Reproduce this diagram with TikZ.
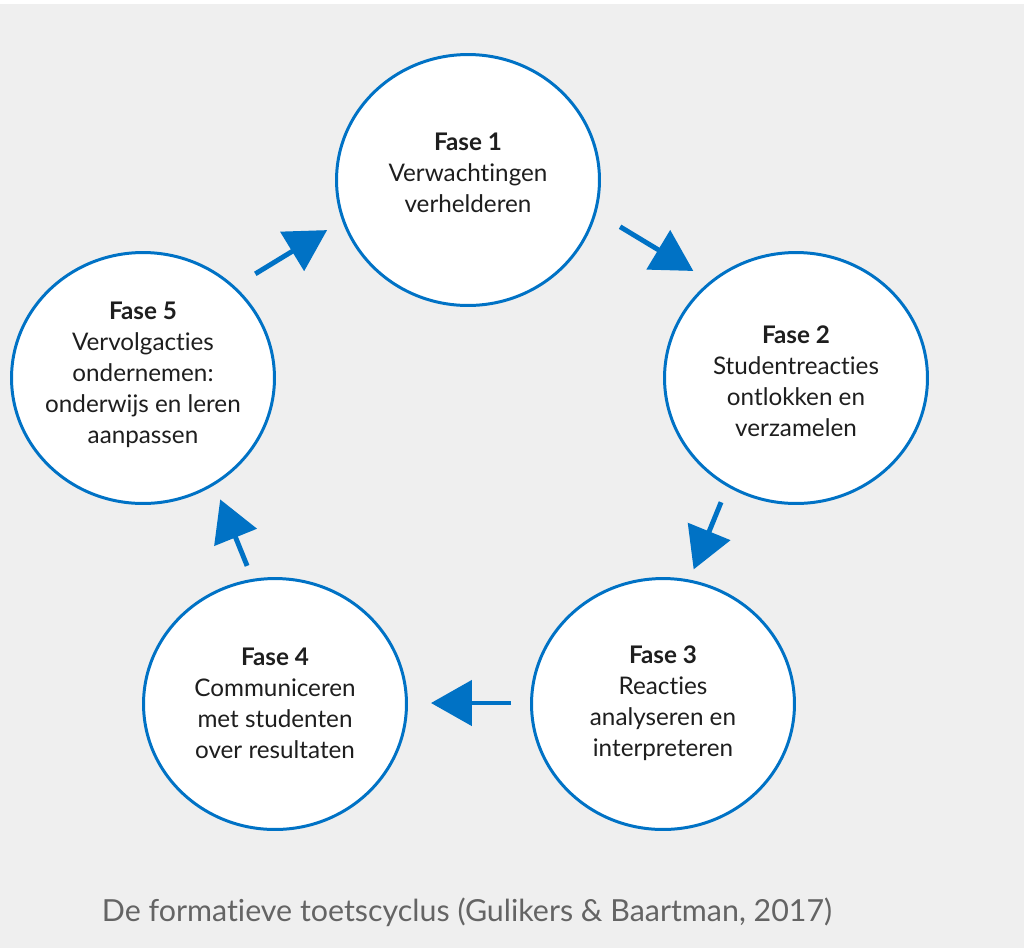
\documentclass[tikz,border=0pt]{standalone}
\usepackage{fontspec}
\setmainfont{Lato}[Ligatures=NoCommon]
\usetikzlibrary{arrows.meta,shapes.geometric}
\definecolor{fblue}{RGB}{0,114,197}
\definecolor{bggray}{RGB}{239,239,239}
\definecolor{capgray}{RGB}{100,100,100}
\definecolor{txtdark}{RGB}{30,30,30}

\begin{document}
\begin{tikzpicture}[x=0.02cm,y=-0.02cm,
  fase/.style={ellipse,draw=fblue,line width=1.7pt,fill=white,
    minimum width=5.26cm,minimum height=5.02cm,inner sep=0pt},
  fasetxt/.style={align=center,text=txtdark,inner sep=0pt,
    font=\fontsize{13.8}{17.6}\selectfont},
  pijl/.style={draw=fblue,line width=2.8pt,-{Triangle[length=0.82cm,width=0.9cm]}}]

% background
\useasboundingbox (0,0) rectangle (1024,948);
\fill[white] (0,0) rectangle (1024,948);
\fill[bggray] (0,4) rectangle (1024,948);

% circles
\node[fase] (f1) at (468,180) {};
\node[fase] (f2) at (796,378) {};
\node[fase] (f3) at (663,704) {};
\node[fase] (f4) at (275,704) {};
\node[fase] (f5) at (143,378) {};

% texts
\node[fasetxt] (t1) at (468,173) {\textbf{Fase 1}\\Verwachtingen\\verhelderen};
\node[fasetxt] (t2) at (796,381) {\textbf{Fase 2}\\Studentreacties\\ontlokken en\\verzamelen};
\node[fasetxt] (t3) at (663,703) {\textbf{Fase 3}\\Reacties\\analyseren en\\interpreteren};
\node[fasetxt] (t4) at (275,703) {\textbf{Fase 4}\\Communiceren\\met studenten\\over resultaten};
\node[fasetxt] (t5) at (143,375) {\textbf{Fase 5}\\Vervolgacties\\ondernemen:\\onderwijs en leren\\aanpassen};

% arrows
\draw[pijl,shorten <=0.46cm,shorten >=0.24cm,transform canvas={shift={(20,-33)}}] (f1) -- (f2);
\draw[pijl,shorten <=0.3cm,shorten >=0.18cm,transform canvas={shift={(-21,-8)}}] (f2) -- (f3);
\draw[pijl,shorten <=0.38cm,shorten >=0.46cm,transform canvas={shift={(0,-1)}}] (f3) -- (f4);
\draw[pijl,shorten <=0.21cm,shorten >=0.28cm,transform canvas={shift={(24,-10)}}] (f4) -- (f5);
\draw[pijl,shorten <=0.38cm,shorten >=0.3cm,transform canvas={shift={(-16,-26)}}] (f5) -- (f1);

% caption
\node[text=capgray,font=\fontsize{17.3}{20}\selectfont] (cap) at (467,912)
  {De formatieve toetscyclus (Gulikers \& Baartman, 2017)};

\end{tikzpicture}
\end{document}
